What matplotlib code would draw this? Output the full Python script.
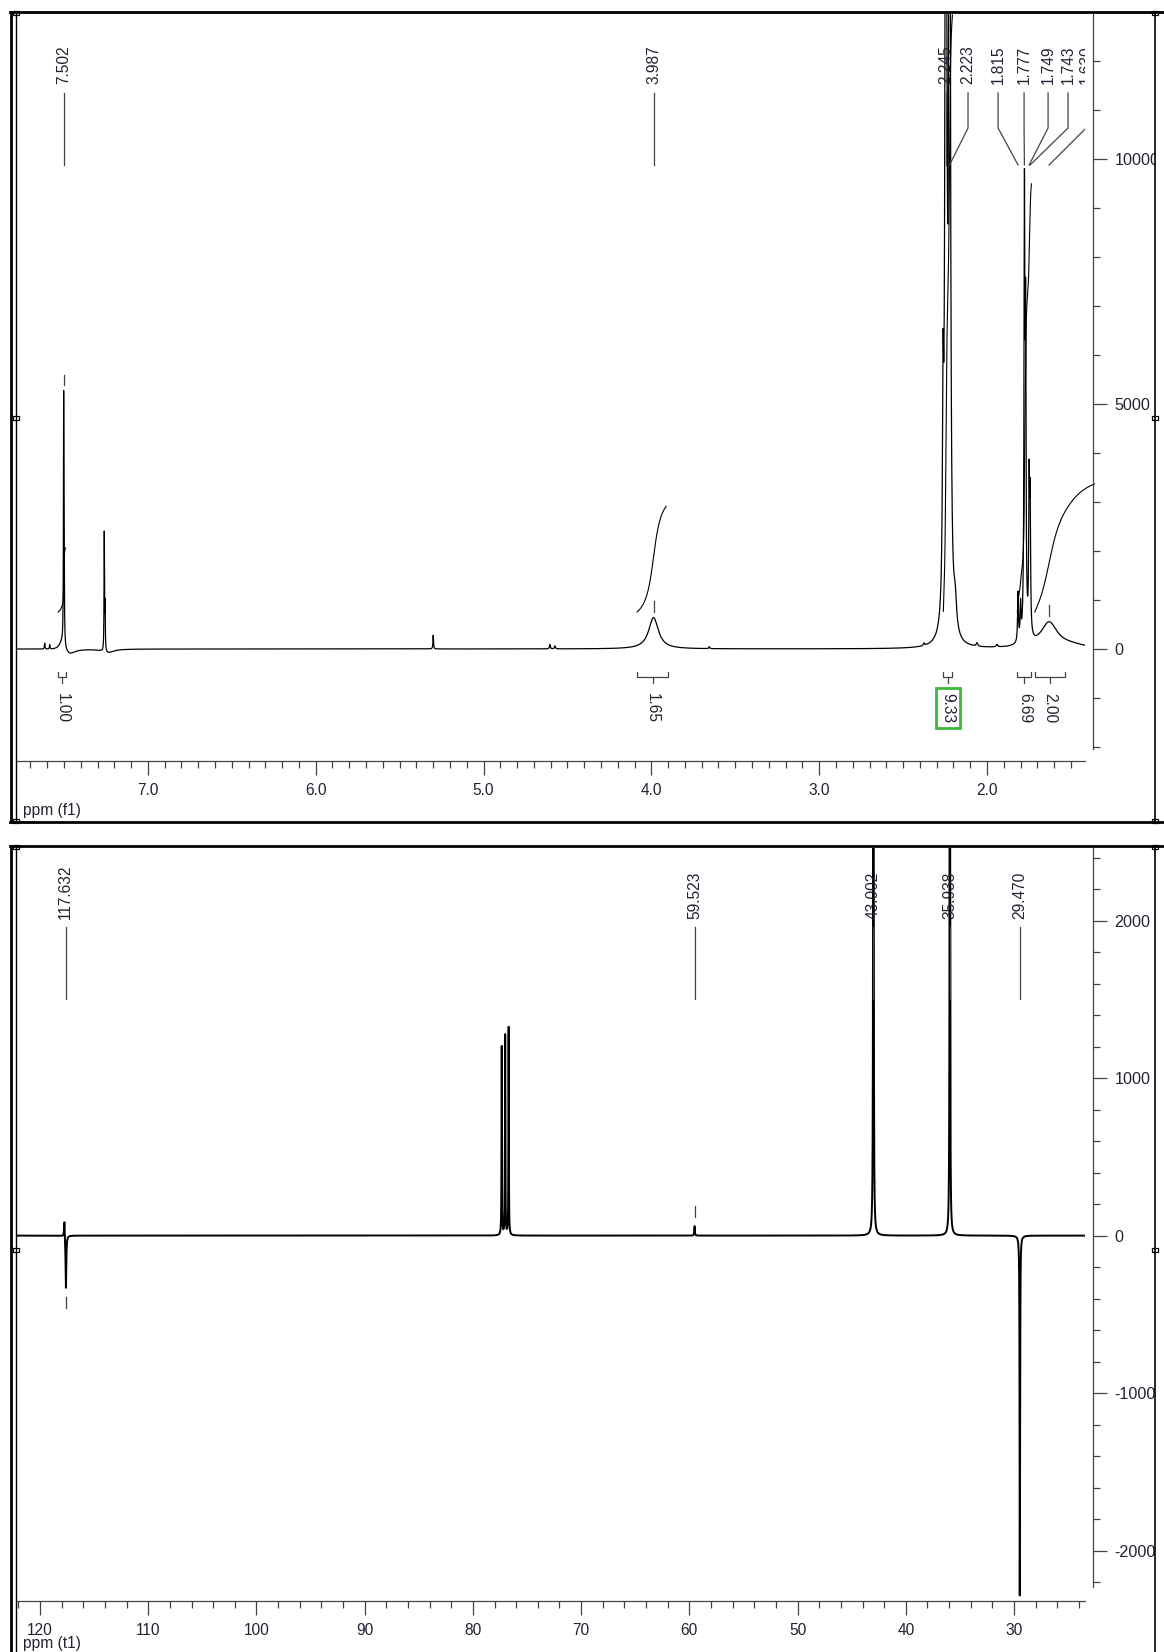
import numpy as np
import matplotlib
matplotlib.use('Agg')
import matplotlib.pyplot as plt
from matplotlib.patches import Rectangle
from matplotlib.ticker import FormatStrFormatter

plt.rcParams['font.family'] = ['Liberation Sans', 'DejaVu Sans']
plt.rcParams['axes.unicode_minus'] = False

W, H = 1164, 1652
ink = '#222233'
gray = '#444444'
fs = 11.2

# ---------------- 1H spectrum (top): peak list ----------------
h_ppm = [7.615, 7.585, 7.512, 7.502, 7.499, 7.470, 7.260, 7.255, 7.240, 5.300, 4.605, 4.575,
         3.987, 3.655, 2.375, 2.262, 2.245, 2.223, 2.190, 2.060, 1.940,
         1.815, 1.800, 1.777, 1.770, 1.749, 1.743, 1.630, 1.500]
h_hgt = [120, 90, 180, 4800, 2000, -120, 2400, 900, -80, 280, 90, 60,
         640, 40, 50, 4000, 26000, 24000, 600, 70, 50,
         1000, 700, 8700, 6000, 3000, 2600, 520, 60]
h_wid = [0.002, 0.002, 0.02, 0.0015, 0.0015, 0.04, 0.0015, 0.0015, 0.04, 0.002, 0.003, 0.003,
         0.035, 0.003, 0.004, 0.004, 0.005, 0.005, 0.01, 0.005, 0.005,
         0.003, 0.003, 0.003, 0.003, 0.003, 0.003, 0.06, 0.1]

# peak labels
h_lab = ['7.502', '3.987', '2.245', '2.223', '1.815', '1.777', '1.749', '1.743', '1.630']
h_lab_at = [7.502, 3.987, 2.245, 2.223, 1.815, 1.777, 1.749, 1.743, 1.630]
h_lab_x = [7.502, 3.987, 2.245, 2.113, 1.934, 1.779, 1.636, 1.517, 1.409]
h_mark = [7.502, 3.987, 1.630]

# integrals
h_int_val = [1.00, 1.65, 9.33, 6.69, 2.00]
h_int_from = [7.535, 4.085, 2.260, 1.820, 1.715]
h_int_to = [7.490, 3.900, 2.206, 1.735, 1.536]
h_curve_to = [7.490, 3.912, 2.206, 1.735, 1.360]
h_int_box = [False, False, True, False, False]

# ---------------- 13C spectrum (bottom): peak list ----------------
c_ppm = [117.75, 117.61, 77.34, 77.02, 76.70, 59.52, 43.002, 42.975, 35.938, 35.915, 29.470, 29.440]
c_hgt = [110, -340, 1200, 1270, 1320, 60, 3600, 1700, 3200, 1600, -2000, -900]
c_wid = [0.04, 0.04, 0.02, 0.02, 0.02, 0.03, 0.025, 0.025, 0.025, 0.025, 0.02, 0.02]

c_lab = ['117.632', '59.523', '43.002', '35.938', '29.470']
c_lab_at = [117.632, 59.523, 43.002, 35.938, 29.470]
c_mark = [59.52, 117.61]
c_mark_dir = [1, -1]


def lorentz(grid, pos, hgt, wid):
    y = np.zeros_like(grid)
    for p, h, w in zip(pos, hgt, wid):
        y += h / (1 + ((grid - p) / w) ** 2)
    return y


ppm_h = np.linspace(7.85, 1.30, 50000)
spec_h = lorentz(ppm_h, h_ppm, h_hgt, h_wid)
ppm_c = np.linspace(122.3, 23.2, 60000)
spec_c = lorentz(ppm_c, c_ppm, c_hgt, c_wid)

fig = plt.figure(figsize=(W / 100, H / 100), dpi=100)


def frac(l, t, r, b):
    return [l / W, 1 - b / H, (r - l) / W, (b - t) / H]


def style(ax, xlim, ylim, ybnd, xmaj, xmin, ymaj, ymin, xfmt):
    ax.set_xlim(*xlim)
    ax.set_ylim(*ylim)
    ax.spines['top'].set_visible(False)
    ax.spines['left'].set_visible(False)
    ax.spines['right'].set_position(('outward', 5.8))
    ax.spines['right'].set_bounds(*ybnd)
    for s in ['right', 'bottom']:
        ax.spines[s].set_color(gray)
        ax.spines[s].set_linewidth(0.9)
    ax.yaxis.tick_right()
    ax.set_xticks(xmaj)
    ax.set_xticks(xmin, minor=True)
    ax.set_yticks(ymaj)
    ax.set_yticks(ymin, minor=True)
    ax.xaxis.set_major_formatter(FormatStrFormatter(xfmt))
    ax.tick_params(which='major', length=10, width=0.9, color=gray, labelsize=fs,
                   labelcolor=ink, direction='out')
    ax.tick_params(which='minor', length=5, width=0.9, color=gray, direction='out')
    ax.tick_params(axis='x', which='major', pad=6)
    ax.tick_params(axis='y', which='major', pad=5.5, labelsize=11.6)
    ax.patch.set_alpha(0)


# ---------------- top panel ----------------
ax1 = fig.add_axes(frac(17, 14, 1085, 761))
style(ax1, (7.78, 1.416), (-2286, 12959), (-2040, 12959),
      [2, 3, 4, 5, 6, 7], np.arange(1.5, 7.75, 0.1),
      [0, 5000, 10000], np.arange(-2000, 12001, 1000), '%.1f')
ax1.plot(ppm_h, spec_h, color='black', lw=0.9)

# integral curves
int_base, int_scale = 755, 1306
for a, b, c, v in zip(h_int_from, h_int_to, h_curve_to, h_int_val):
    m = (ppm_h <= a) & (ppm_h >= c)
    cum = np.cumsum(spec_h[m])
    cum = cum / cum[-1] * v * int_scale + int_base
    ax1.plot(ppm_h[m], cum, color='black', lw=0.8, clip_on=False)

# integral brackets and labels
for a, b, v, box in zip(h_int_from, h_int_to, h_int_val, h_int_box):
    mid = (a + b) / 2
    ax1.plot([a, a, b, b], [-470, -571, -571, -470], color=gray, lw=0.9)
    ax1.plot([mid, mid], [-571, -694], color=gray, lw=0.9)
    kw = {}
    if box:
        kw['bbox'] = dict(boxstyle='square,pad=0.3', fc='none', ec='#3cba3c', lw=2)
    ax1.text(mid, -898, '%.2f' % v, rotation=270, ha='center', va='top',
             fontsize=fs, color=ink, **kw)

# peak labels
for lab, p, x in zip(h_lab, h_lab_at, h_lab_x):
    ax1.plot([x, x, p], [11347, 10633, 9878], color=gray, lw=0.9)
    ax1.text(x, 11530, lab, rotation=90, ha='center', va='bottom',
             fontsize=fs, color=ink, clip_on=True)

for p in h_mark:
    y = np.interp(p, ppm_h[::-1], spec_h[::-1])
    ax1.plot([p, p], [y + 120, y + 340], color=gray, lw=0.9)

# ---------------- bottom panel ----------------
ax2 = fig.add_axes(frac(17, 848, 1085, 1601))
style(ax2, (122.13, 23.44), (-2320, 2461), (-2230, 2461),
      np.arange(30, 121, 10), np.arange(24, 123, 2),
      [-2000, -1000, 0, 1000, 2000], np.arange(-2200, 2401, 200), '%d')
ax2.plot(ppm_c, spec_c, color='black', lw=1.4)

for lab, p in zip(c_lab, c_lab_at):
    ax2.plot([p, p], [1960, 1502], color=gray, lw=0.9)
    ax2.text(p, 2010, lab, rotation=90, ha='center', va='bottom',
             fontsize=fs, color=ink, clip_on=True)

for p, d in zip(c_mark, c_mark_dir):
    y = np.interp(p, ppm_c[::-1], spec_c[::-1])
    ax2.plot([p, p], [y + d * 60, y + d * 125], color=gray, lw=0.9)

# ---------------- frames (pixel overlay) ----------------
ov = fig.add_axes([0, 0, 1, 1], zorder=10)
ov.set_xlim(0, W)
ov.set_ylim(H, 0)
ov.axis('off')
ov.add_patch(Rectangle((1156, 0), 10, H, fc='white', ec='none'))

ov.text(23, 803, 'ppm (f1)', ha='left', va='top', fontsize=fs, color=ink)
ov.text(23, 1636, 'ppm (t1)', ha='left', va='top', fontsize=fs, color=ink)

for top, bot in [(12, 822), (846, H + 5)]:
    ov.plot([10, W], [top, top], color='black', lw=2)
    ov.plot([10, W], [bot, bot], color='black', lw=2)
    ov.plot([11, 11], [top, bot], color='black', lw=2)
    ov.plot([16, 16], [top, bot], color='black', lw=1)
    ov.plot([1155, 1155], [top, bot], color='black', lw=1.2)

for x, y in [(16, 13), (1155, 13), (16, 418), (1155, 418), (16, 821), (1155, 821),
             (16, 847), (1155, 847), (16, 1250), (1155, 1250)]:
    ov.add_patch(Rectangle((x - 3, y - 2), 6, 4, fc='white', ec='black', lw=0.9))

fig.savefig('out.png', dpi=100)
